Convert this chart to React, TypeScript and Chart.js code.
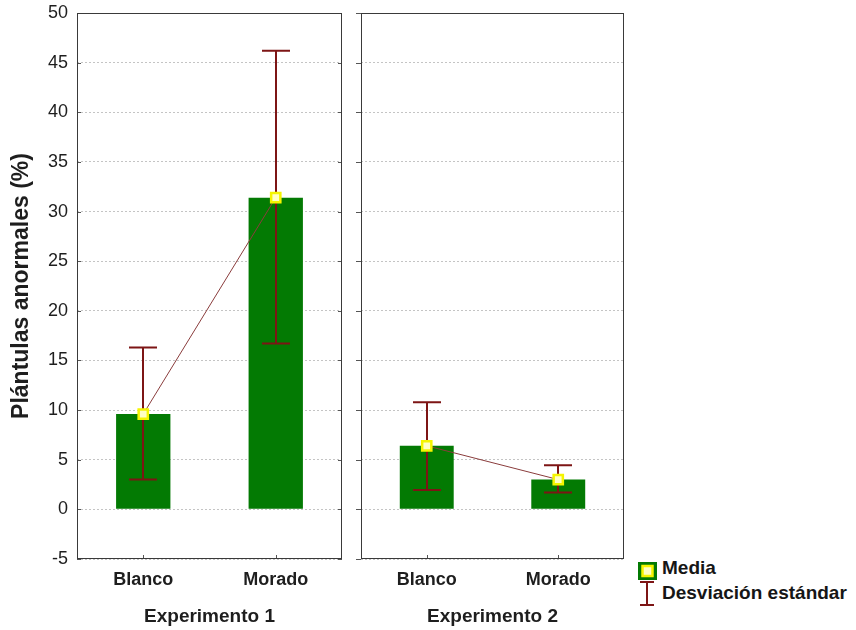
import React, { useEffect, useRef } from 'react';
import { Chart, registerables } from 'chart.js';

Chart.register(...registerables);

// ---- data ----
const CATEGORIES = ['Blanco', 'Morado'];
const EXPERIMENTS = ['Experimento 1', 'Experimento 2'];
const EXP1_MEAN = [9.6, 31.4];
const EXP1_LOW = [3.0, 16.7];
const EXP1_HIGH = [16.3, 46.2];
const EXP2_MEAN = [6.4, 3.0];
const EXP2_LOW = [1.95, 1.7];
const EXP2_HIGH = [10.8, 4.45];
const Y_MIN = -5;
const Y_MAX = 50;
const Y_STEP = 5;
const Y_TITLE = 'Plántulas anormales (%)';
const LEGEND_MEAN = 'Media';
const LEGEND_SD = 'Desviación estándar';

// ---- styles ----
const FONT = '"Liberation Sans", Arial, sans-serif';
const BAR_GREEN = '#037a03';
const ERR = '#7d1515';
const MEAN_LINE = '#8a3c3c';
const FRAME = '#3a3a3a';
const TICK = '#555555';

type PanelCfg = {
  means: number[];
  low: number[];
  high: number[];
  title: string;
  first: boolean;
};

function makePlugin(cfg: PanelCfg) {
  return {
    id: 'panelExtras',
    afterDatasetDraw(chart: any, args: any) {
      if (args.meta.type !== 'bar') return;
      const ctx = chart.ctx;
      const ys = chart.scales.y;
      ctx.save();
      ctx.strokeStyle = ERR;
      ctx.lineWidth = 2;
      args.meta.data.forEach((el: any, i: number) => {
        const x = Math.round(el.x);
        const y1 = ys.getPixelForValue(cfg.low[i]);
        const y2 = ys.getPixelForValue(cfg.high[i]);
        ctx.beginPath();
        ctx.moveTo(x, y1);
        ctx.lineTo(x, y2);
        ctx.moveTo(x - 14, y1);
        ctx.lineTo(x + 14, y1);
        ctx.moveTo(x - 14, y2);
        ctx.lineTo(x + 14, y2);
        ctx.stroke();
      });
      ctx.restore();
    },
    afterDraw(chart: any) {
      const ctx = chart.ctx;
      const a = chart.chartArea;
      const ys = chart.scales.y;
      const xs = chart.scales.x;
      ctx.save();
      ctx.strokeStyle = TICK;
      ctx.lineWidth = 1;
      ctx.beginPath();
      for (let v = Y_MIN; v <= Y_MAX; v += Y_STEP) {
        const py = Math.round(ys.getPixelForValue(v)) + 0.5;
        if (cfg.first) {
          ctx.moveTo(a.left, py);
          ctx.lineTo(a.left + 4, py);
          ctx.moveTo(a.right - 4, py);
          ctx.lineTo(a.right, py);
        } else {
          ctx.moveTo(a.left - 5, py);
          ctx.lineTo(a.left, py);
        }
      }
      CATEGORIES.forEach((_, i) => {
        const px = Math.round(xs.getPixelForValue(i)) + 0.5;
        ctx.moveTo(px, a.bottom);
        ctx.lineTo(px, a.bottom - 4);
      });
      ctx.stroke();
      ctx.strokeStyle = FRAME;
      ctx.lineWidth = 1;
      ctx.strokeRect(
        Math.round(a.left) + 0.5,
        Math.round(a.top) + 0.5,
        Math.round(a.right - a.left) - 1,
        Math.round(a.bottom - a.top) - 1
      );
      ctx.restore();
    },
  };
}

function Panel(props: PanelCfg & { left: number; width: number; padLeft: number }) {
  const ref = useRef<HTMLCanvasElement | null>(null);
  useEffect(() => {
    if (!ref.current) return;
    const cfg: PanelCfg = props;
    const chart = new Chart(ref.current, {
      data: {
        labels: CATEGORIES,
        datasets: [
          {
            type: 'line',
            data: cfg.means,
            borderColor: MEAN_LINE,
            borderWidth: 1,
            pointStyle: 'rect',
            pointRadius: 6.5,
            pointBackgroundColor: '#ffffc4',
            pointBorderColor: '#f5f500',
            pointBorderWidth: 2.5,
            order: 1,
          } as any,
          {
            type: 'bar',
            data: cfg.means,
            backgroundColor: BAR_GREEN,
            borderWidth: 0,
            barPercentage: 0.41,
            categoryPercentage: 1,
            order: 2,
          } as any,
        ],
      },
      options: {
        responsive: false,
        animation: false,
        devicePixelRatio: 1,
        layout: {
          autoPadding: false,
          padding: { top: 13, right: 1, bottom: 0, left: props.padLeft },
        },
        plugins: { legend: { display: false }, tooltip: { enabled: false } },
        scales: {
          x: {
            type: 'category',
            offset: true,
            grid: { display: false, drawTicks: false },
            border: { display: false },
            ticks: {
              color: '#1e1e1e',
              font: { family: FONT, size: 18, weight: 'bold' },
              padding: 10,
            },
            title: {
              display: true,
              text: cfg.title,
              color: '#1e1e1e',
              font: { family: FONT, size: 19, weight: 'bold' },
              padding: { top: 0, bottom: 2 },
            },
            afterFit: (s: any) => {
              s.height = 71;
              s.paddingLeft = 0;
              s.paddingRight = 0;
            },
          },
          y: {
            type: 'linear',
            min: Y_MIN,
            max: Y_MAX,
            grid: { color: '#c4c4c4', lineWidth: 1, drawTicks: false },
            border: { display: false, dash: [2, 2] },
            ticks: {
              display: cfg.first,
              stepSize: Y_STEP,
              color: '#1e1e1e',
              font: { family: FONT, size: 18 },
              padding: 9,
            },
            title: {
              display: cfg.first,
              text: Y_TITLE,
              color: '#1e1e1e',
              font: { family: FONT, size: 23, weight: 'bold' },
              padding: { top: 8, bottom: 0 },
            },
            afterFit: (s: any) => {
              s.width = cfg.first ? 77 : 0;
              s.paddingTop = 0;
              s.paddingBottom = 0;
            },
          },
        },
      } as any,
      plugins: [makePlugin(cfg)],
    });
    return () => chart.destroy();
  }, []);
  return (
    <canvas
      ref={ref}
      width={props.width}
      height={630}
      style={{ position: 'absolute', left: props.left, top: 0, width: props.width, height: 630 }}
    />
  );
}

export default function App() {
  const textStyle: React.CSSProperties = {
    position: 'absolute',
    fontFamily: FONT,
    fontWeight: 'bold',
    fontSize: 19,
    lineHeight: '22px',
    color: '#161616',
    whiteSpace: 'nowrap',
  };
  return (
    <div style={{ position: 'absolute', left: 0, top: 0, width: 856, height: 630, background: '#fff' }}>
      <Panel
        means={EXP1_MEAN}
        low={EXP1_LOW}
        high={EXP1_HIGH}
        title={EXPERIMENTS[0]}
        first={true}
        left={0}
        width={343}
        padLeft={0}
      />
      <Panel
        means={EXP2_MEAN}
        low={EXP2_LOW}
        high={EXP2_HIGH}
        title={EXPERIMENTS[1]}
        first={false}
        left={343}
        width={282}
        padLeft={18}
      />
      <svg width={21} height={20} style={{ position: 'absolute', left: 637, top: 561 }}>
        <rect x={1} y={1} width={19} height={18} fill={BAR_GREEN} />
        <rect x={5.5} y={5} width={10} height={10} fill="#ffffc4" stroke="#f5f500" strokeWidth={2.5} />
      </svg>
      <div style={{ ...textStyle, left: 662, top: 557 }}>{LEGEND_MEAN}</div>
      <svg width={22} height={28} style={{ position: 'absolute', left: 636, top: 580 }}>
        <line x1={11} y1={2} x2={11} y2={25} stroke={ERR} strokeWidth={2} />
        <line x1={4} y1={2} x2={18} y2={2} stroke={ERR} strokeWidth={2} />
        <line x1={4} y1={25} x2={18} y2={25} stroke={ERR} strokeWidth={2} />
      </svg>
      <div style={{ ...textStyle, left: 662, top: 582 }}>{LEGEND_SD}</div>
    </div>
  );
}
